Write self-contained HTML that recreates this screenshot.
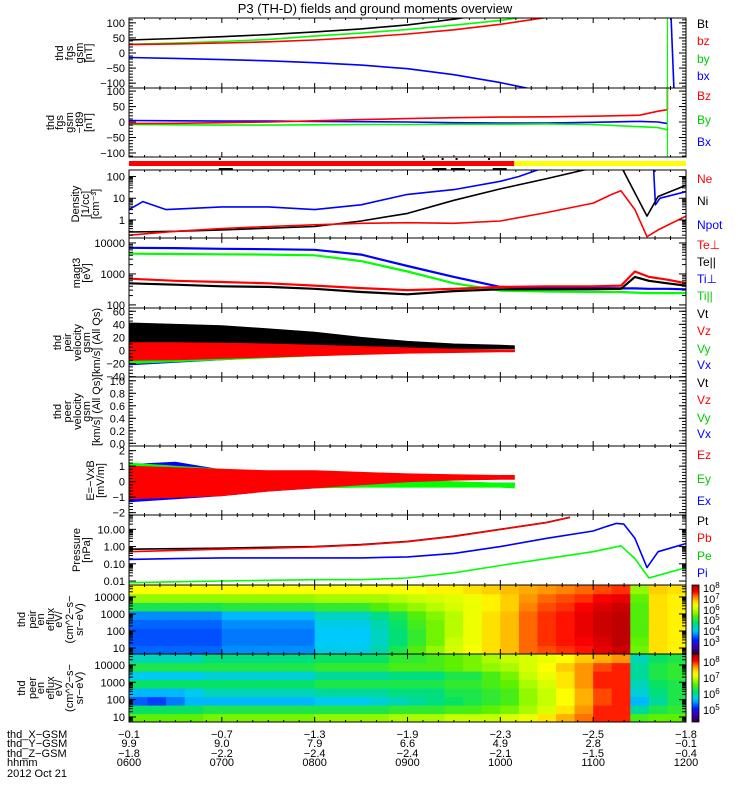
<!DOCTYPE html>
<html><head><meta charset="utf-8"><title>THEMIS D overview</title>
<style>
html,body{margin:0;padding:0;background:#fff;}
svg{display:block;font-family:"Liberation Sans",sans-serif;}
text{font-size:11px;}
</style></head>
<body>
<svg id="chart" width="750" height="800" viewBox="0 0 750 800" xmlns="http://www.w3.org/2000/svg">
<rect x="0" y="0" width="750" height="800" fill="#fff"/>
<text x="375" y="13" text-anchor="middle" style="font-size:13px">P3 (TH-D) fields and ground moments overview</text>
<defs id="defs"></defs>
</svg>
<script>
// ---------- data ----------
const tA = [6,6.5,7,7.5,8,8.5,9,9.5,10,10.5,11,11.5,12];
const fgsBt = [43,48,54,61,70,80,93,112,135,160,190,220,250];
const fgsBz = [28,30,33,37,43,52,63,77,95,118,145,175,205];
const fgsBy = [29,33,38,45,56,66,78,92,108,130,160,190,220];
const fgsBx = [-15,-18,-22,-26,-32,-40,-52,-72,-98,-130,-160,-190,-220];
const tB = [6,6.5,7,7.5,8,8.5,9,9.5,10,10.5,11,11.5,11.7,11.8];
const tbgBz = [-5,-4,-2,0,4,8,11,14,16,17,19,22,35,40];
const tbgBy = [-8,-9,-10,-10,-9,-8,-8,-7,-7,-6,-8,-15,-18,-25];
const tbgBx = [5,4,3,3,2,1,0,-2,-3,-3,-1,2,0,-5];
const tNe = [6,6.5,7,7.5,8,8.5,9,9.5,10,10.5,11,11.2,11.3,11.45,11.58,11.7,12];
const dNe = [0.2,0.3,0.4,0.5,0.6,0.7,0.75,0.7,0.9,2.2,6,15,22,3,0.17,0.35,1.5];
const tNi = [6,6.5,7,7.5,8,8.5,9,9.5,10,10.5,10.9,11.3,11.58,11.7,12];
const dNi = [0.28,0.3,0.35,0.42,0.5,0.9,2,8,27,80,200,300,1.5,12,40];
const tNpot = [6,6.15,6.4,7,7.5,8,8.5,9,9.5,10,10.2,10.4];
const dNpot = [3,7,3,4,4,3,5,15,25,60,100,200];
const tNpot2 = [11.65,11.67,11.72,12];
const dNpot2 = [300,5,10,20];
const tT = [6,6.5,7,7.5,8,8.5,9,9.5,10,10.5,11,11.3,11.45,11.6,11.8,12];
const tiPerp = [7000,6800,6500,6300,6000,4200,1800,800,380,350,350,340,340,330,330,320];
const tiPar = [4500,4400,4300,4200,4000,2600,1200,500,290,270,260,260,250,240,240,240];
const tePerp = [700,600,550,500,420,350,300,330,380,400,400,420,1200,800,650,500];
const tePar = [500,450,400,380,330,260,220,280,320,320,320,330,800,600,500,420];
const tV = [6,6.5,7,7.5,8,8.5,9,9.5,10,10.15];
const vtHi = [42,40,38,33,28,20,14,10,8,7];
const vtLo = [2,2,2,2,2,2,2,3,3,3];
const vzHi = [12,12,11,10,8,6,4,2,1,1];
const vzLo = [-15,-14,-12,-10,-8,-6,-4,-3,-2,-2];
const vyHi = [10,10,9,8,6,4,3,2,1,1];
const vyLo = [-20,-17,-14,-11,-8,-5,-3,-1,-1,-1];
const vxHi = [8,8,7,6,5,3,2,1,1,1];
const vxLo = [-22,-18,-14,-10,-7,-5,-3,-2,-1,-1];
const ezHi = [1.0,0.9,0.8,0.7,0.7,0.6,0.5,0.45,0.4,0.4];
const ezLo = [-1.1,-1.0,-0.9,-0.6,-0.4,-0.2,0,0.1,0.15,0.15];
const eyHi = [1.2,1.0,0.8,0.5,0.4,0.2,0.1,0,-0.1,-0.1];
const eyLo = [-0.9,-0.8,-0.6,-0.5,-0.4,-0.35,-0.35,-0.35,-0.35,-0.4];
const exHi = [1.1,1.25,0.75,0.45,0.35,0.15,0.05,-0.05,-0.1,-0.1];
const exLo = [-1.3,-1.1,-0.9,-0.6,-0.4,-0.3,-0.25,-0.2,-0.2,-0.2];
const tP = [6,6.5,7,7.5,8,8.5,9,9.5,10,10.5,10.75];
const pT = [0.7,0.75,0.8,0.9,1.0,1.3,2,4,10,25,50];
const pB = [0.5,0.6,0.7,0.8,0.95,1.25,1.9,3.9,9.8,24.5,49];
const tPi = [6,6.5,7,7.5,8,8.5,9,9.5,10,10.5,11,11.15,11.25,11.33,11.45,11.58,11.7,12];
const pI = [0.18,0.2,0.22,0.22,0.22,0.22,0.25,0.4,1.0,3,8,15,22,20,3,0.06,0.5,1.5];
const tPe = [6,6.5,7,7.5,8,8.5,9,9.5,10,10.5,11,11.3,11.45,11.6,11.8,12];
const pE = [0.008,0.009,0.01,0.011,0.012,0.012,0.015,0.03,0.08,0.2,0.5,1.1,0.2,0.015,0.03,0.06];
// spectrograms: 30 columns (12 min each) x 8 energy rows (bottom->top), log10 eflux
const spec1 = [
[3.6,3.5,3.5,3.6,3.8,5.0,5.8,6.5],[3.6,3.5,3.5,3.6,3.8,5.0,5.8,6.5],[3.6,3.5,3.5,3.6,3.8,5.0,5.8,6.5],
[3.6,3.5,3.5,3.6,3.8,5.0,5.8,6.5],[3.6,3.5,3.5,3.6,3.8,5.0,5.8,6.5],[3.8,3.7,3.7,3.8,4.0,5.1,5.8,6.5],
[3.8,3.7,3.7,3.8,4.0,5.1,5.8,6.5],[3.8,3.7,3.7,3.8,4.0,5.1,5.8,6.5],[3.8,3.7,3.7,3.8,4.0,5.1,5.8,6.5],
[3.8,3.7,3.7,3.8,4.0,5.1,5.8,6.5],[4.2,4.1,4.1,4.2,4.4,5.2,5.9,6.5],[4.2,4.1,4.1,4.2,4.4,5.2,5.9,6.5],
[4.2,4.1,4.1,4.2,4.4,5.2,5.9,6.5],[4.5,4.4,4.4,4.5,4.7,5.4,5.9,6.5],[5.0,4.8,4.8,4.9,5.0,5.6,6.0,6.5],
[5.4,5.2,5.2,5.3,5.4,5.8,6.1,6.5],[5.8,5.6,5.6,5.6,5.7,6.0,6.2,6.6],[6.2,6.1,6.0,6.0,6.0,6.2,6.3,6.6],
[6.5,6.4,6.4,6.4,6.4,6.4,6.4,6.7],[6.7,6.7,6.7,6.7,6.7,6.6,6.6,6.8],[6.9,6.9,6.9,6.9,6.9,6.8,6.8,6.9],
[7.3,7.3,7.3,7.3,7.3,7.2,7.1,7.0],[7.4,7.5,7.5,7.5,7.5,7.4,7.3,7.1],[7.5,7.6,7.6,7.6,7.6,7.5,7.4,7.2],
[7.6,7.7,7.8,7.8,7.8,7.7,7.5,7.3],[7.8,7.9,8.0,8.0,8.0,7.9,7.7,7.4],[8.0,8.1,8.1,8.1,8.1,8.0,7.8,7.5],
[5.6,5.5,5.4,5.4,5.4,5.4,5.5,5.8],[6.7,6.7,6.7,6.7,6.7,6.7,6.7,6.8],[6.6,6.6,6.6,6.6,6.6,6.6,6.6,6.7]];
const spec2 = [
[6.6,6.2,5.3,5.6,6.2,5.7,6.3,5.9],[6.6,6.2,5.2,5.6,6.2,5.7,6.3,5.9],[6.6,6.2,5.4,5.6,6.2,5.7,6.3,5.9],
[6.6,6.2,5.6,5.7,6.2,5.7,6.3,5.9],[6.7,6.3,5.6,5.9,6.2,5.8,6.3,6.1],[6.7,6.3,5.6,5.9,6.2,5.8,6.3,6.1],
[6.7,6.3,5.6,5.9,6.2,5.8,6.3,6.1],[6.7,6.3,5.6,5.9,6.2,5.8,6.3,6.1],[6.7,6.3,5.6,5.9,6.2,5.8,6.3,6.1],
[6.7,6.3,5.6,5.9,6.2,5.8,6.3,6.1],[6.8,6.3,5.7,6.0,6.3,6.0,6.4,6.2],[6.8,6.3,5.7,6.0,6.3,6.0,6.4,6.2],
[6.8,6.3,5.7,6.0,6.3,6.0,6.4,6.2],[6.8,6.3,5.8,6.0,6.3,6.0,6.4,6.2],[6.9,6.4,5.9,6.1,6.3,6.1,6.5,6.4],
[6.9,6.4,6.0,6.1,6.3,6.1,6.5,6.4],[6.9,6.4,6.1,6.1,6.3,6.1,6.5,6.5],[7.0,6.5,6.2,6.3,6.4,6.3,6.6,6.6],
[7.0,6.5,6.3,6.3,6.4,6.3,6.7,6.7],[7.0,6.6,6.4,6.4,6.5,6.5,6.8,6.9],[7.1,6.7,6.5,6.5,6.6,6.7,6.9,7.0],
[7.2,6.9,6.8,6.8,6.9,7.0,7.1,7.1],[7.4,7.1,7.0,7.0,7.1,7.2,7.3,7.2],[7.6,7.4,7.3,7.3,7.4,7.4,7.5,7.3],
[7.8,7.7,7.6,7.6,7.7,7.7,7.7,7.5],[8.0,8.0,7.9,7.9,8.0,8.0,7.9,7.6],[8.0,8.0,8.0,8.0,8.0,8.0,8.0,7.7],
[6.5,6.0,5.6,5.8,5.9,6.0,6.0,5.9],[6.6,6.3,6.0,6.1,6.2,6.3,6.3,6.2],[6.6,6.4,6.3,6.3,6.3,6.4,6.4,6.3]];
const hourLabels = ['0600','0700','0800','0900','1000','1100','1200'];
const xgsmLabels = ['-0.1','-0.7','-1.3','-1.9','-2.3','-2.5','-1.8'];
const ygsmLabels = ['9.9','9.0','7.9','6.6','4.9','2.8','-0.1'];
const zgsmLabels = ['-1.8','-2.2','-2.4','-2.4','-2.1','-1.5','-0.4'];

// ---------- helpers ----------
const NS='http://www.w3.org/2000/svg';
const svg=document.getElementById('chart');
const defs=document.getElementById('defs');
function mk(tag,attrs,parent){const e=document.createElementNS(NS,tag);for(const k in attrs)e.setAttribute(k,attrs[k]);(parent||svg).appendChild(e);return e;}
const X0=129,X1=686;
function xs(t){return X0+(t-6)/6*(X1-X0);}
function lin(p,lo,hi){return v=>p[1]-(v-lo)/(hi-lo)*(p[1]-p[0]);}
function lg(p,lo,hi){return v=>p[1]-(Math.log10(v)-lo)/(hi-lo)*(p[1]-p[0]);}
const P={fgs:[18,88],tbg:[88,157],den:[170,238],temp:[238,308],vi:[308,377],ve:[377,446],ef:[446,515],pr:[515,585],s1:[585,654],s2:[654,722]};
const Y={
 fgs:lin(P.fgs,-116,116), tbg:lin(P.tbg,-113,110), den:lg(P.den,-0.83,2.3), temp:lg(P.temp,1.9,4.16),
 vi:lin(P.vi,-40.5,65), ve:lin(P.ve,-0.043,1.06), ef:lin(P.ef,-2.15,2.3), pr:lg(P.pr,-2.23,1.83),
 s1:lg(P.s1,0.65,4.7), s2:lg(P.s2,0.71,4.63)};
for(const k in P){
 const cp=mk('clipPath',{id:'clip-'+k},defs);
 mk('rect',{x:X0,y:P[k][0],width:X1-X0,height:P[k][1]-P[k][0]},cp);
}
const CM=[[0,[40,0,60]],[0.1,[60,0,170]],[0.2,[0,30,255]],[0.33,[0,200,255]],[0.45,[0,225,110]],[0.55,[90,240,0]],[0.65,[200,255,0]],[0.72,[255,255,0]],[0.82,[255,140,0]],[0.9,[255,0,0]],[1,[160,0,0]]];
function cmap(n){n=Math.max(0,Math.min(1,n));for(let i=1;i<CM.length;i++){if(n<=CM[i][0]){const a=CM[i-1],b=CM[i];const f=(n-a[0])/(b[0]-a[0]);return 'rgb('+a[1].map((c,j)=>Math.round(c+(b[1][j]-c)*f)).join(',')+')';}}return 'rgb(160,0,0)';}

// ---------- spectrograms ----------
function drawSpec(key,data,lo,hi,name){
 const g=mk('g',{'clip-path':'url(#clip-'+key+')'});
 
 
 const p=P[key],rh=(p[1]-p[0])/8,cw=(X1-X0)/data.length;
 data.forEach((col,c)=>col.forEach((v,r)=>{
  const cell=mk('rect',{x:(xs(6+c*6/data.length)).toFixed(2),y:(p[1]-(r+1)*rh).toFixed(2),width:(cw+0.6).toFixed(2),height:(rh+0.6).toFixed(2),fill:cmap((v-lo)/(hi-lo))},g);
  
  
 }));
}
drawSpec('s1',spec1,2.0,8.3,'ion-energy-spectrogram');
drawSpec('s2',spec2,4.25,8.5,'electron-energy-spectrogram');
function colorbar(id,p,name){
 const gr=mk('linearGradient',{id:id,x1:0,y1:1,x2:0,y2:0},defs);
 for(let i=0;i<=20;i++)mk('stop',{offset:i/20,'stop-color':cmap(i/20)},gr);
 const r=mk('rect',{x:692,y:p[0],width:7,height:p[1]-p[0],fill:'url(#'+id+')',stroke:'#000','stroke-width':0.8});
 
 
}
colorbar('cb1',P.s1,'ion-colorbar');
colorbar('cb2',P.s2,'electron-colorbar');
const cb1Labels=[['8',588],['7',599],['6',610],['5',620],['4',631],['3',642]];
cb1Labels.forEach(l=>{const t=mk('text',{x:703,y:l[1]+4,style:'font-size:11px'});t.textContent='10';const s=mk('tspan',{dy:-4,style:'font-size:8px'},t);s.textContent=l[0];
 
 });
const cb2Labels=[['8',662],['7',678],['6',694],['5',710]];
cb2Labels.forEach(l=>{const t=mk('text',{x:703,y:l[1]+4,style:'font-size:11px'});t.textContent='10';const s=mk('tspan',{dy:-4,style:'font-size:8px'},t);s.textContent=l[0];
 
 });

// ---------- series ----------
function line(key,ts,vs,color,name,w){
 const pts=ts.map((t,i)=>xs(t).toFixed(1)+','+Y[key](vs[i]).toFixed(1)).join(' ');
 const e=mk('polyline',{points:pts,fill:'none',stroke:color,'stroke-width':w||1.6,'clip-path':'url(#clip-'+key+')','stroke-linejoin':'round'});
 
 
}
function band(key,ts,hi,lo,color,name){
 const up=ts.map((t,i)=>xs(t).toFixed(1)+','+Y[key](hi[i]).toFixed(1));
 const dn=ts.map((t,i)=>xs(t).toFixed(1)+','+Y[key](lo[i]).toFixed(1)).reverse();
 const e=mk('polygon',{points:up.concat(dn).join(' '),fill:color,stroke:color,'stroke-width':1,'clip-path':'url(#clip-'+key+')'});
 
 
}
line('fgs',tA,fgsBx,'#0000ff','fgs-bx');
line('fgs',tA,fgsBy,'#00ff00','fgs-by');
line('fgs',tA,fgsBz,'#ff0000','fgs-bz');
line('fgs',tA,fgsBt,'#000','fgs-bt');
line('fgs',[11.84,11.87],[116,-116],'#0000ff','fgs-bx-spike');
line('tbg',tB,tbgBx,'#0000ff','tbg-bx');
line('tbg',tB,tbgBy,'#00ff00','tbg-by');
line('tbg',tB,tbgBz,'#ff0000','tbg-bz');
line('tbg',[11.8,11.8],[40,110],'#ff0000','tbg-bz-spike');
const sp=mk('line',{x1:xs(11.8),y1:18,x2:xs(11.8),y2:157,stroke:'#00ff00','stroke-width':1.2});


line('den',tNpot,dNpot,'#0000ff','density-npot');
line('den',tNpot2,dNpot2,'#0000ff','density-npot-end');
line('den',tNi,dNi,'#000','density-ni');
line('den',tNe,dNe,'#ff0000','density-ne');
line('temp',tT,tiPerp,'#0000ff','temp-ti-perp',2.2);
line('temp',tT,tiPar,'#00ff00','temp-ti-par',2.2);
line('temp',tT,tePerp,'#ff0000','temp-te-perp',2.2);
line('temp',tT,tePar,'#000','temp-te-par',2.2);
band('vi',tV,vtHi,vtLo,'#000','vt-band');
band('vi',tV,vxHi,vxLo,'#0000ff','vx-band');
band('vi',tV,vyHi,vyLo,'#00ff00','vy-band');
band('vi',tV,vzHi,vzLo,'#ff0000','vz-band');
band('ef',tV,exHi,exLo,'#0000ff','ex-band');
band('ef',tV,eyHi,eyLo,'#00ff00','ey-band');
band('ef',tV,ezHi,ezLo,'#ff0000','ez-band');
line('pr',tPe,pE,'#00ff00','pressure-pe');
line('pr',tPi,pI,'#0000ff','pressure-pi');
line('pr',tP,pT,'#000','pressure-pt');
line('pr',tP,pB,'#ff0000','pressure-pb');

// ---------- mode bar ----------
const rb=mk('rect',{x:X0,y:161,width:xs(10.15)-X0,height:5,fill:'#ff0000'});


const yb=mk('rect',{x:xs(10.15),y:161,width:X1-xs(10.15),height:5,fill:'#ffff00'});


const marks=[[7.0,158],[9.2,158],[9.4,158],[9.55,158],[9.9,158],[7.0,168],[9.3,168],[9.5,168],[9.95,168]];
marks.forEach(m=>{const e=mk('rect',{x:xs(m[0])-3,y:m[1],width:m[1]>160?14:2,height:2,fill:'#000'});
 
 });

// ---------- axes ----------
function frame(key,name){
 const p=P[key];
 const r=mk('rect',{x:X0,y:p[0],width:X1-X0,height:p[1]-p[0],fill:'none',stroke:'#000','stroke-width':1});
 
 
 for(let m=0;m<=36;m++){const x=xs(6+m/6),len=m%6===0?5:2;
  mk('line',{x1:x,y1:p[0],x2:x,y2:p[0]+len,stroke:'#000'});
  mk('line',{x1:x,y1:p[1],x2:x,y2:p[1]-len,stroke:'#000'});}
}
function yticks(key,major,labels,minor){
 const p=P[key];
 major.forEach((v,i)=>{const y=Y[key](v);
  mk('line',{x1:X0,y1:y,x2:X0+7,y2:y,stroke:'#000'});mk('line',{x1:X1,y1:y,x2:X1-7,y2:y,stroke:'#000'});
  const t=mk('text',{x:125,y:y+4,'text-anchor':'end'});t.textContent=labels[i];
  
  });
 minor.forEach(v=>{const y=Y[key](v);if(y<p[0]||y>p[1])return;
  mk('line',{x1:X0,y1:y,x2:X0+4,y2:y,stroke:'#000'});mk('line',{x1:X1,y1:y,x2:X1-4,y2:y,stroke:'#000'});});
}
function linMinor(lo,hi,step){const a=[];for(let v=lo;v<=hi+1e-9;v+=step)a.push(v);return a;}
function logMinor(d0,d1){const a=[];for(let d=d0;d<=d1;d++)for(let k=2;k<=9;k++)a.push(k*Math.pow(10,d));return a;}
const names={fgs:'fgs-panel',tbg:'fgs-tbg-panel',den:'density-panel',temp:'temperature-panel',vi:'ion-velocity-panel',ve:'electron-velocity-panel',ef:'efield-panel',pr:'pressure-panel',s1:'ion-spec-panel',s2:'electron-spec-panel'};
for(const k in P)frame(k,names[k]);
mk('line',{x1:X0,y1:157,x2:X1,y2:157,stroke:'#000'});mk('line',{x1:X0,y1:170,x2:X1,y2:170,stroke:'#000'});
yticks('fgs',[100,50,0,-50,-100],['100','50','0','\u221250','\u2212100'],linMinor(-110,110,10));
yticks('tbg',[100,50,0,-50,-100],['100','50','0','\u221250','\u2212100'],linMinor(-110,110,10));
yticks('den',[100,10,1],['100','10','1'],logMinor(-1,2));
yticks('temp',[10000,1000,100],['10000','1000','100'],logMinor(2,4));
yticks('vi',[60,40,20,0,-20,-40],['60','40','20','0','\u221220','\u221240'],linMinor(-40,60,5));
yticks('ve',[1,0.8,0.6,0.4,0.2,0],['1.0','0.8','0.6','0.4','0.2','0.0'],linMinor(0,1,0.05));
yticks('ef',[2,1,0,-1,-2],['2','1','0','\u22121','\u22122'],linMinor(-2,2,0.2));
yticks('pr',[10,1,0.1,0.01],['10.00','1.00','0.10','0.01'],logMinor(-2,1));
yticks('s1',[10000,1000,100,10],['10000','1000','100','10'],logMinor(0,4));
yticks('s2',[10000,1000,100,10],['10000','1000','100','10'],logMinor(0,4));

// ---------- axis titles ----------
function ytitle(key,lines,xsPos,name){
 const p=P[key],yc=(p[0]+p[1])/2;
 const g=mk('g',{});
 
 
 lines.forEach((s,i)=>{const t=mk('text',{transform:'translate('+xsPos[i]+','+yc+') rotate(-90)','text-anchor':'middle'},g);t.textContent=s;});
}
ytitle('fgs',['thd','fgs','gsm','[nT]'],[63,73,83,92],'fgs-axis-title');
ytitle('tbg',['thd','fgs','gsm','\u2212t89','[nT]'],[54,63,73,83,92],'tbg-axis-title');
ytitle('den',['Density','[1/cc]','[cm\u207B\u00B3]'],[79,89,99],'density-axis-title');
ytitle('temp',['magt3','[eV]'],[80,90],'temperature-axis-title');
ytitle('vi',['thd','peir','velocity','gsm','[km/s] (All Qs)'],[61,71,81,90,100],'ion-velocity-axis-title');
ytitle('ve',['thd','peer','velocity','gsm','[km/s] (All Qs)'],[61,71,81,90,100],'electron-velocity-axis-title');
ytitle('ef',['E=\u2212VxB','[mV/m]'],[94,104],'efield-axis-title');
ytitle('pr',['Pressure','[nPa]'],[80,90],'pressure-axis-title');
ytitle('s1',['thd','peir','en','eflux','eV/','(cm^2\u2212s\u2212','sr\u2212eV)'],[25,36,44,54,62,73,83],'ion-spec-axis-title');
ytitle('s2',['thd','peer','en','eflux','eV/','(cm^2\u2212s\u2212','sr\u2212eV)'],[25,36,44,54,62,73,83],'electron-spec-axis-title');

// ---------- legends ----------
function legend(items){items.forEach(it=>{const t=mk('text',{x:697,y:it[2]+4,fill:it[1],style:'font-size:12px'});t.textContent=it[0];
 
 });}
legend([['Bt','#000',24],['bz','#f00',41],['by','#0c0',59],['bx','#00f',76]]);
legend([['Bz','#f00',96],['By','#0c0',120],['Bx','#00f',142]]);
legend([['Ne','#f00',179],['Ni','#000',201],['Npot','#00f',225]]);
legend([['Te\u22A5','#f00',245],['Te||','#000',262],['Ti\u22A5','#00f',279],['Ti||','#0c0',296]]);
legend([['Vt','#000',314],['Vz','#f00',331],['Vy','#0c0',349],['Vx','#00f',365]]);
legend([['Vt','#000',383],['Vz','#f00',400],['Vy','#0c0',418],['Vx','#00f',434]]);
legend([['Ez','#f00',455],['Ey','#0c0',479],['Ex','#00f',501]]);
legend([['Pt','#000',521],['Pb','#f00',538],['Pe','#0c0',556],['Pi','#00f',573]]);

// ---------- x axis labels ----------
const rowsY=[738,747,757,766];
const rowNames=['thd_X\u2212GSM','thd_Y\u2212GSM','thd_Z\u2212GSM','hhmm'];
const rowData=[xgsmLabels,ygsmLabels,zgsmLabels,hourLabels];
rowNames.forEach((n,r)=>{const t=mk('text',{x:7,y:rowsY[r]});t.textContent=n;
 
 
 rowData[r].forEach((s,i)=>{const e=mk('text',{x:xs(6+i),y:rowsY[r],'text-anchor':'middle'});e.textContent=s.replace('-','\u2212');
  
  });});
const dt=mk('text',{x:7,y:777});dt.textContent='2012 Oct 21';


</script>
</body></html>
